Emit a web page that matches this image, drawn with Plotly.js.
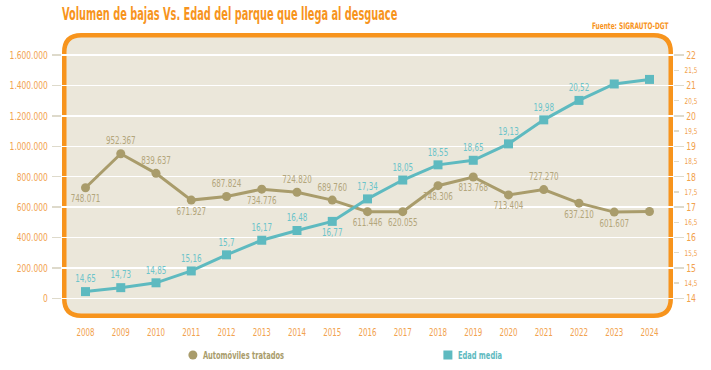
<!DOCTYPE html>
<html>
<head>
<meta charset="utf-8">
<script src="https://cdn.plot.ly/plotly-3.0.1.min.js"></script>
<style>html,body{margin:0;padding:0;background:#fff}#chart{width:711px;height:370px}</style>
</head>
<body>
<div id="chart"></div>
<script>
// ---- data ----
const years = [2008,2009,2010,2011,2012,2013,2014,2015,2016,2017,2018,2019,2020,2021,2022,2023,2024];
const tratados = [727600,951000,822000,646000,670000,718000,698000,646000,570000,570000,741000,798000,680000,715000,626000,567000,571000];
const tratadosLabels = ['748.071','952.367','839.637','671.927','687.824','734.776','724.820','689.760','611.446','620.055','748.306','813.768','713.404','727.270','637.210','601.607',''];
const tratadosLabelPos = ['bottom center','top center','top center','bottom center','top center','bottom center','top center','top center','bottom center','bottom center','bottom center','bottom center','bottom center','top center','bottom center','bottom center','bottom center'];
const edad = [14.22,14.35,14.51,14.90,15.43,15.91,16.23,16.53,17.27,17.89,18.39,18.54,19.08,19.87,20.51,21.05,21.20];
const edadLabels = ['14,65','14,73','14,85','15,16','15,7','16,17','16,48','16,77','17,34','18,05','18,55','18,65','19,13','19,98','20,52','',''];
const edadLabelPos = ['top center','top center','top center','top center','top center','top center','top center','bottom center','top center','top center','top center','top center','top center','top center','top center','top center','top center'];
const leftTicks = [0,200000,400000,600000,800000,1000000,1200000,1400000,1600000];
const rightMajor = [14,15,16,17,18,19,20,21,22];
const rightMajorText = ['14','15','16','17','18','19','20','21','22'];
const rightMinor = [14.5,15.5,16.5,17.5,18.5,19.5,20.5,21.5];
const rightMinorText = ['14,5','15,5','16,5','17,5','18,5','19,5','20,5','21,5'];
const seriesNames = ['Automóviles tratados','Edad media'];

// ---- styling ----
const FONT = 'DejaVu Sans Condensed, Liberation Sans Narrow, sans-serif';
const ORANGE = '#F7941D';
const TICKTXT = '#F2A24E';
const GRAY = '#A99C6B';
const GRAYTXT = '#B3A67B';
const TEAL = '#5EBAC0';
const TEALTXT = '#6CC4CA';
const TICKCOL = '#DEDACB';

const W = 711, H = 370;
const M = {l:62, r:38, t:33, b:52};
const pw = W - M.l - M.r, ph = H - M.t - M.b;
const sw = 4.5, dx = (sw/2)/pw, dy = (sw/2)/ph, rx = 17/pw, ry = 17/ph;
const x0 = dx, x1 = 1-dx, y0 = dy, y1 = 1-dy;
const framePath = `M ${x0+rx},${y0} L ${x1-rx},${y0} Q ${x1},${y0} ${x1},${y0+ry} L ${x1},${y1-ry} Q ${x1},${y1} ${x1-rx},${y1} L ${x0+rx},${y1} Q ${x0},${y1} ${x0},${y1-ry} L ${x0},${y0+ry} Q ${x0},${y0} ${x0+rx},${y0} Z`;

const yLow = -129600, yHigh = 1745400;
const traces = [
  {
    x: years, y: tratados, type: 'scatter', mode: 'lines+markers+text',
    text: tratadosLabels, textposition: tratadosLabelPos,
    textfont: {family: FONT, size: 10.5, color: GRAYTXT},
    line: {color: GRAY, width: 3}, marker: {symbol: 'circle', size: 9, color: GRAY},
    cliponaxis: false, showlegend: false, hoverinfo: 'skip', yaxis: 'y'
  },
  {
    x: years, y: edad, type: 'scatter', mode: 'lines+markers+text',
    text: edadLabels, textposition: edadLabelPos,
    textfont: {family: FONT, size: 10.5, color: TEALTXT},
    line: {color: TEAL, width: 3}, marker: {symbol: 'square', size: 9, color: TEAL},
    cliponaxis: false, showlegend: false, hoverinfo: 'skip', yaxis: 'y2'
  },
  {
    x: [null], y: [null], type: 'scatter', mode: 'markers', yaxis: 'y3',
    showlegend: false, hoverinfo: 'skip'
  },
  {
    x: [null], y: [null], type: 'scatter', mode: 'markers', yaxis: 'y',
    name: '<span style="color:' + GRAY + '">' + seriesNames[0] + '</span>',
    marker: {symbol: 'circle', size: 9, color: GRAY}, showlegend: true
  },
  {
    x: [null], y: [null], type: 'scatter', mode: 'markers', yaxis: 'y',
    name: '<span style="color:' + TEAL + '">' + seriesNames[1] + '</span>',
    marker: {symbol: 'square', size: 9, color: TEAL}, showlegend: true
  }
];

const layout = {
  width: W, height: H, margin: M,
  paper_bgcolor: '#ffffff', plot_bgcolor: 'rgba(0,0,0,0)',
  separators: ',.',
  showlegend: true,
  title: {
    text: 'Volumen de bajas Vs. Edad del parque que llega al desguace',
    x: 0, xref: 'paper', xanchor: 'left', y: 1 - 14.5/H, yref: 'container', yanchor: 'middle',
    font: {family: FONT, size: 17, weight: 'bold', color: ORANGE}
  },
  xaxis: {
    range: [2007.333, 2024.667], tickvals: years, ticktext: years.map(String),
    showgrid: false, zeroline: false, showline: false, ticks: '', automargin: false,
    tickfont: {family: FONT, size: 10.5, color: TICKTXT}, ticklabelstandoff: 7
  },
  yaxis: {
    range: [yLow, yHigh], tickvals: leftTicks, tickformat: ',d', automargin: false,
    showgrid: true, gridcolor: '#ffffff', gridwidth: 1.3, zeroline: false, showline: false,
    ticks: 'outside', ticklen: 9, tickcolor: TICKCOL, tickwidth: 1.5,
    tickfont: {family: FONT, size: 11, color: TICKTXT}, ticklabelstandoff: 2
  },
  yaxis2: {
    range: [13.352, 22.727], overlaying: 'y', side: 'right', automargin: false,
    tickvals: rightMajor, ticktext: rightMajorText,
    showgrid: false, zeroline: false, showline: false,
    ticks: 'outside', ticklen: 10, tickcolor: TICKCOL, tickwidth: 1.5,
    tickfont: {family: FONT, size: 11, color: TICKTXT}
  },
  yaxis3: {
    range: [13.352, 22.727], overlaying: 'y', side: 'right', automargin: false,
    tickvals: rightMinor, ticktext: rightMinorText,
    showgrid: false, zeroline: false, showline: false,
    ticks: 'outside', ticklen: 5, tickcolor: TICKCOL, tickwidth: 1.5,
    tickfont: {family: FONT, size: 8, color: TICKTXT}, ticklabelstandoff: 4
  },
  legend: {
    orientation: 'h', x: 0.1815, xanchor: 'left', y: 1 - 355/H, yref: 'container', yanchor: 'middle',
    font: {family: FONT, size: 10, weight: 'bold'},
    entrywidth: 210, entrywidthmode: 'pixels', bgcolor: 'rgba(0,0,0,0)'
  },
  shapes: [
    {type: 'path', xref: 'paper', yref: 'paper', path: framePath, layer: 'below',
     fillcolor: '#EBE7DA', line: {color: ORANGE, width: sw}}
  ],
  annotations: [
    {text: 'Fuente: SIGRAUTO-DGT', xref: 'paper', yref: 'paper', x: (630.5 - M.l)/pw, y: 1 + (M.t - 25.7)/ph,
     xanchor: 'center', yanchor: 'middle', showarrow: false,
     font: {family: FONT, size: 9, weight: 'bold', color: ORANGE}}
  ]
};

// Horizontally condense text nodes around their anchor (the reference uses a condensed typeface)
function condense(sel, f, shift) {
  document.querySelectorAll(sel).forEach(function (t) {
    const x = parseFloat(t.getAttribute('x')) || 0;
    const prev = t.getAttribute('transform') || '';
    t.setAttribute('transform', prev + ' translate(' + (x + (shift || 0)) + ',0) scale(' + f + ',1) translate(' + (-x) + ',0)');
  });
}

Plotly.newPlot('chart', traces, layout, {staticPlot: true, displayModeBar: false}).then(function () {
  condense('#chart .gtitle', 0.64, 0);
  condense('#chart .legendtext', 0.745, -10);
  condense('#chart .annotation-text', 0.72, 0);
  condense('#chart .xtick text', 0.75, 0);
  condense('#chart .ytick text', 0.76, 0);
  condense('#chart .y2tick text', 0.78, 0);
  condense('#chart .y3tick text', 0.8, 0);
  condense('#chart .textpoint text', 0.76, 0);
});
</script>
</body>
</html>
